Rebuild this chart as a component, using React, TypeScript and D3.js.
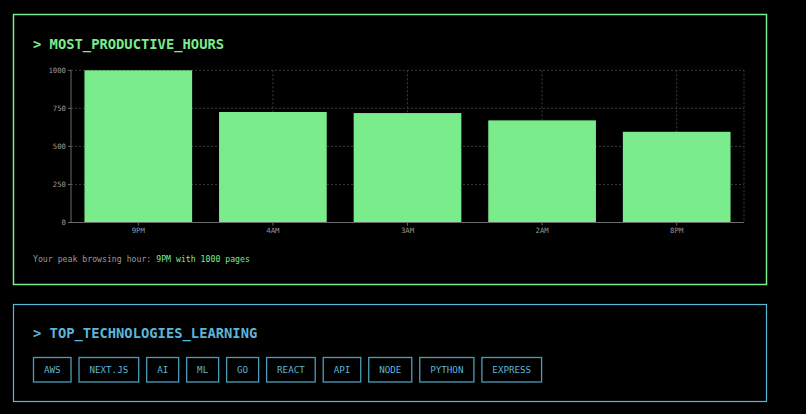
import * as d3 from 'd3';

const HOURS = ['9PM', '4AM', '3AM', '2AM', '8PM'];
const PAGES = [1000, 726, 719, 671, 596];
const Y_TICKS = [0, 250, 500, 750, 1000];
const TECHNOLOGIES = ['AWS', 'NEXT.JS', 'AI', 'ML', 'GO', 'REACT', 'API', 'NODE', 'PYTHON', 'EXPRESS'];

const GREEN = '#7bec8c';
const BLUE = '#5cb6d8';
const TAG_BORDER = '#4e9cb8';
const GRID = '#3a3a3a';
const AXIS = '#6b6b6b';
const MUTED = '#9a9a9a';
const MONO = '"DejaVu Sans Mono", monospace';

const W = 806;
const H = 414;

function HoursChart() {
  const plot = { left: 71, right: 744, top: 70.3, bottom: 222.5 };

  const x = d3.scaleBand().domain(HOURS).range([plot.left, plot.right]).paddingInner(0.2).paddingOuter(0.1);
  const xc = d3.scaleBand().domain(HOURS).range([plot.left, plot.right]);
  const y = d3.scaleLinear().domain([0, 1000]).range([plot.bottom, plot.top]);

  const peakIdx = d3.maxIndex(PAGES);

  return (
    <g>
      <rect x={13.5} y={14.5} width={753} height={270} fill="none" stroke={GREEN} strokeWidth={1.5} />
      <text x={33} y={49} fill={GREEN} fontFamily={MONO} fontWeight="bold" fontSize={13.8}>
        {'> MOST_PRODUCTIVE_HOURS'}
      </text>

      {/* grid */}
      {Y_TICKS.filter((t) => t > 0).map((t) => (
        <line key={`h${t}`} x1={plot.left} x2={plot.right} y1={y(t)} y2={y(t)} stroke={GRID} strokeDasharray="2 2" />
      ))}
      {HOURS.map((h) => {
        const cx = (xc(h) || 0) + xc.bandwidth() / 2;
        return <line key={`v${h}`} x1={cx} x2={cx} y1={plot.top} y2={plot.bottom} stroke={GRID} strokeDasharray="2 2" />;
      })}
      <line x1={plot.right} x2={plot.right} y1={plot.top} y2={plot.bottom} stroke={GRID} strokeDasharray="2 2" />

      {/* bars */}
      {HOURS.map((h, i) => (
        <rect key={h} x={x(h)} y={y(PAGES[i])} width={x.bandwidth()} height={plot.bottom - y(PAGES[i])} fill={GREEN} />
      ))}

      {/* y axis */}
      <line x1={plot.left} x2={plot.left} y1={plot.top} y2={plot.bottom} stroke={AXIS} />
      {Y_TICKS.map((t) => (
        <g key={`yt${t}`}>
          <line x1={plot.left - 3} x2={plot.left} y1={y(t)} y2={y(t)} stroke={AXIS} />
          <text x={plot.left - 5} y={y(t)} dy="0.35em" textAnchor="end" fill={MUTED} fontFamily={MONO} fontSize={7.3}>
            {t}
          </text>
        </g>
      ))}

      {/* x axis */}
      <line x1={plot.left} x2={plot.right} y1={plot.bottom} y2={plot.bottom} stroke={AXIS} />
      {HOURS.map((h) => {
        const cx = (xc(h) || 0) + xc.bandwidth() / 2;
        return (
          <g key={`xt${h}`}>
            <line x1={cx} x2={cx} y1={plot.bottom} y2={plot.bottom + 3} stroke={AXIS} />
            <text x={cx} y={232.5} textAnchor="middle" fill={MUTED} fontFamily={MONO} fontSize={7.3}>
              {h}
            </text>
          </g>
        );
      })}

      <text x={33} y={262} fontFamily={MONO} fontSize={8.2} fill={MUTED}>
        {'Your peak browsing hour: '}
        <tspan fill={GREEN}>{`${HOURS[peakIdx]} with ${PAGES[peakIdx]} pages`}</tspan>
      </text>
    </g>
  );
}

function TechPanel() {
  const fontSize = 9.2;
  const charW = fontSize * 0.602;
  const pad = 10.45;
  const gap = 8;
  let cursor = 33.5;
  const tags = TECHNOLOGIES.map((t) => {
    const w = t.length * charW + pad * 2;
    const tag = { label: t, x: cursor, w };
    cursor += w + gap;
    return tag;
  });

  return (
    <g>
      <rect x={13.5} y={304.5} width={753} height={97} fill="none" stroke={BLUE} strokeWidth={1.2} />
      <text x={33} y={338.3} fill={BLUE} fontFamily={MONO} fontWeight="bold" fontSize={13.8}>
        {'> TOP_TECHNOLOGIES_LEARNING'}
      </text>
      {tags.map((t) => (
        <g key={t.label}>
          <rect x={t.x} y={357.5} width={t.w} height={24.5} fill="none" stroke={TAG_BORDER} strokeWidth={1.3} />
          <text x={t.x + t.w / 2} y={369.8} dy="0.35em" textAnchor="middle" fill={BLUE} fontFamily={MONO} fontSize={fontSize}>
            {t.label}
          </text>
        </g>
      ))}
    </g>
  );
}

export default function App() {
  return (
    <div style={{ position: 'fixed', left: 0, top: 0, width: W, height: H, background: '#000' }}>
      <svg width={W} height={H} style={{ display: 'block' }}>
        <rect width={W} height={H} fill="#000" />
        <HoursChart />
        <TechPanel />
      </svg>
    </div>
  );
}
